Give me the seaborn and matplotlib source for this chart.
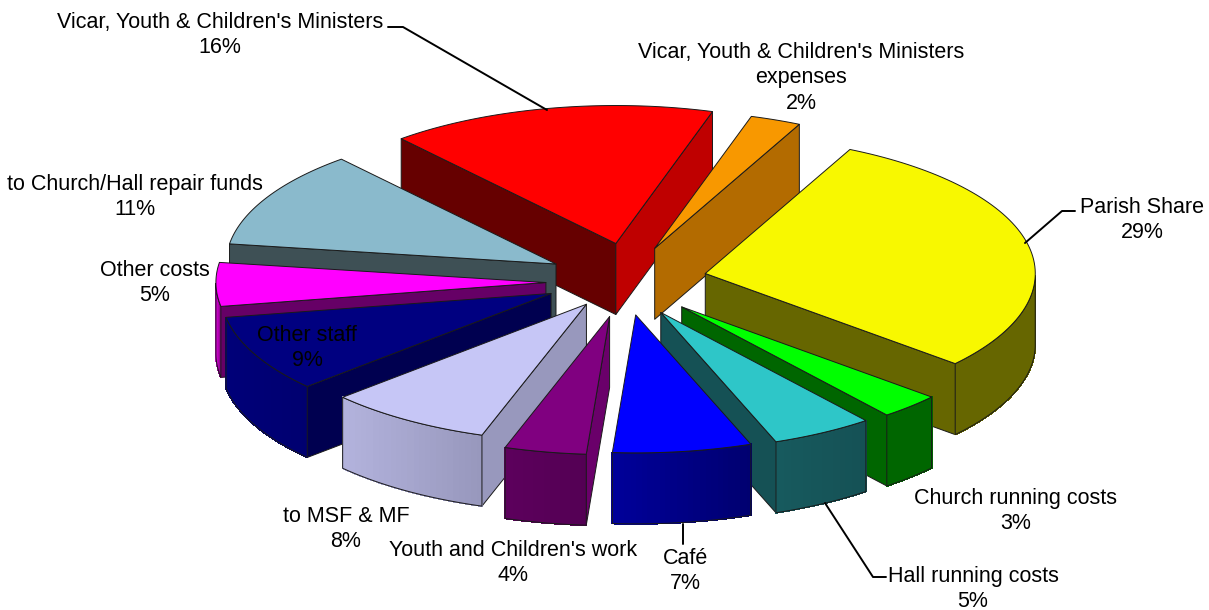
import numpy as np
import matplotlib
matplotlib.use("Agg")
import matplotlib.pyplot as plt
import seaborn as sns

# ---- data ----
categories = ["Parish Share", "Church running costs", "Hall running costs", "Café",
              "Youth and Children's work", "to MSF & MF", "Other staff", "Other costs",
              "to Church/Hall repair funds", "Vicar, Youth & Children's Ministers",
              "Vicar, Youth & Children's Ministers\nexpenses"]
values = [29.1, 3.0, 5.0, 6.8, 4.0, 8.1, 9.0, 5.1, 11.4, 16.0, 2.49]

# ---- styles ----
top_colors = ["#F8F800", "#00FF00", "#2EC6C8", "#0000FF", "#800080", "#C6C6F6",
              "#000080", "#FF00FF", "#8ABACC", "#FF0000", "#F89800"]
start_wall = ["#666600", "#006600", "#155155", "#000099", "#6A006A", "#9898BD",
              "#000050", "#660066", "#3E5055", "#660000", "#B36B00"]
end_wall = ["#666600", "#006600", "#155155", "#000070", "#5C005C", "#9898BD",
            "#000050", "#660066", "#3E5055", "#BF0000", "#B36B00"]
arc_left = ["#666600", "#006600", "#175A5E", "#000099", "#5C005C", "#B2B2DC",
            "#000078", "#D000D0", "#3E5055", "#660000", "#B36B00"]
arc_right = ["#666600", "#006600", "#155155", "#000070", "#540054", "#9898BD",
             "#000070", "#660066", "#3E5055", "#BF0000", "#B36B00"]
# small per-slice nudges that stand in for the original's perspective
nudge_x = [-2, 0, -3, 3, 7, 15, 11, 15, 14, 14, 2]
nudge_y = [1, 0, 0, -2, 0, -7, -3, 2, 2, 0, 3]

sns.set_theme(style="white", rc={"font.family": ["Liberation Sans", "DejaVu Sans"]})
top_palette = sns.color_palette(top_colors)

# ---- pie geometry ----
CX, CY, RX, RY, DEPTH, EXPLODE, START = 620.0, 280.0, 330.0, 138.0, 71.0, 0.27, 26.0
EDGE = "#1a1a1a"

shares = np.array(values) / np.sum(values) * 360.0
starts = START + np.concatenate([[0], np.cumsum(shares)[:-1]])
ends = starts + shares


def ground(theta):
    t = np.radians(theta)
    return np.sin(t), -np.cos(t)


fig = plt.figure(figsize=(12.09, 6.10), dpi=100)
ax = fig.add_axes([0, 0, 1, 1])
ax.set_xlim(0, 1209)
ax.set_ylim(610, 0)
ax.axis("off")


def draw_slice(i, z):
    a0, a1 = starts[i], ends[i]
    mid = (a0 + a1) / 2
    ex, ey = ground(mid)
    ax0 = CX + EXPLODE * RX * ex + nudge_x[i]
    ay0 = CY + EXPLODE * RY * ey + nudge_y[i]

    def rim(th):
        sx, sy = ground(th)
        return ax0 + RX * sx, ay0 + RY * sy

    # radial walls, only when they face the viewer
    for th, normal, col in ((a0, a0 - 90, start_wall[i]), (a1, a1 + 90, end_wall[i])):
        if np.cos(np.radians(normal)) < 0:
            x, y = rim(th)
            ax.fill([ax0, x, x, ax0], [ay0, y, y + DEPTH, ay0 + DEPTH],
                    facecolor=col, edgecolor=EDGE, lw=0.7, zorder=z, joinstyle="round")

    # outer curved wall with horizontal shading
    ths = np.linspace(a0, a1, 80)
    vis = ths[np.cos(np.radians(ths)) < 0]
    if len(vis) > 1:
        xs, ys = rim(vis)
        xmin, xmax = xs.min(), xs.max()
        n = 24
        pal = sns.blend_palette([arc_left[i], arc_right[i]], n)
        for k in range(len(vis) - 1):
            frac = ((xs[k] + xs[k + 1]) / 2 - xmin) / max(xmax - xmin, 1)
            c = pal[min(int(frac * n), n - 1)]
            ax.fill([xs[k], xs[k + 1], xs[k + 1], xs[k]],
                    [ys[k], ys[k + 1], ys[k + 1] + DEPTH, ys[k] + DEPTH],
                    facecolor=c, edgecolor=c, lw=0.6, antialiased=False, zorder=z + 0.1)
        ax.fill(np.r_[xs, xs[::-1]], np.r_[ys, ys[::-1] + DEPTH], fill=False,
                edgecolor=EDGE, lw=0.7, zorder=z + 0.2)

    # top face
    xs, ys = rim(ths)
    ax.fill(np.r_[ax0, xs], np.r_[ay0, ys], facecolor=top_palette[i], edgecolor=EDGE,
            lw=0.7, zorder=z + 0.3, joinstyle="round")


# painter's order: slices at the back first
order = np.argsort(-np.cos(np.radians((starts + ends) / 2)))
for rank, idx in enumerate(order):
    draw_slice(idx, 2 + rank)

# ---- labels ----
label_pos = [(1142, 220), (1016, 511), (973, 589), (685, 571), (513, 563), (346, 529),
             (307, 348), (155, 283), (135, 197), (220, 35), (801, 78)]
for name, val, (x, y) in zip(categories, values, label_pos):
    ax.text(x, y, f"{name}\n{val:.0f}%", ha="center", va="center", fontsize=15.5,
            color="black", linespacing=1.3, zorder=50)

leaders = [([388, 403, 547], [27, 27, 110]),
           ([1075, 1062, 1025], [211, 211, 243]),
           ([886, 873, 825], [577, 577, 503]),
           ([683, 683], [524, 544])]
for lx, ly in leaders:
    ax.plot(lx, ly, color="black", lw=1.4, zorder=40, solid_joinstyle="round")

fig.savefig("out.png", dpi=100, facecolor="white")
